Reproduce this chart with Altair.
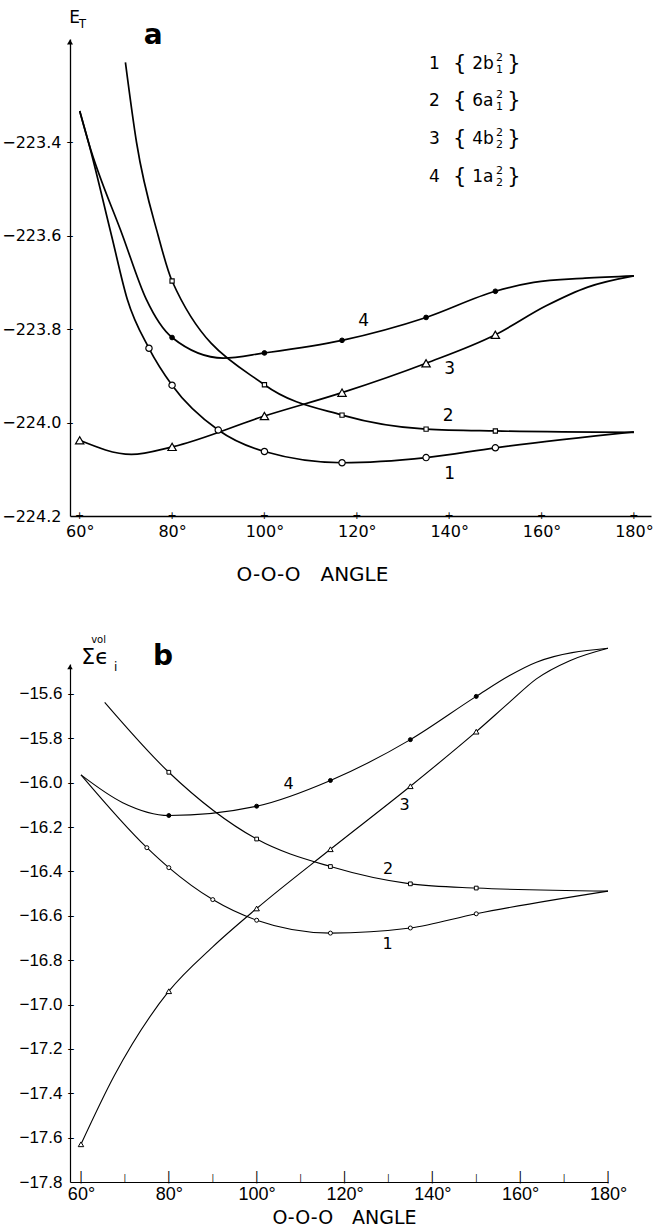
import altair as alt
import pandas as pd

FONT = "DejaVu Sans"

# ---------------- panel a : total energy E_T vs O-O-O angle ----------------
a1_angle = [60, 61.9, 66.9, 70.3, 75, 80, 90, 100, 116.8, 135, 150, 180]
a1_value = [-223.333, -223.4, -223.6, -223.736, -223.841, -223.92, -224.016, -224.062, -224.086, -224.075, -224.054, -224.02]
a1_mark = [0, 0, 0, 0, 1, 1, 1, 1, 1, 1, 1, 0]

a2_angle = [69.9, 72.3, 77.0, 80, 100, 116.8, 135, 150, 180]
a2_value = [-223.229, -223.4, -223.6, -223.697, -223.919, -223.984, -224.014, -224.018, -224.021]
a2_mark = [0, 0, 0, 1, 1, 1, 1, 1, 0]

a3_angle = [60, 71.2, 80, 100, 116.8, 135, 150, 161, 170, 180]
a3_value = [-224.038, -224.068, -224.052, -223.986, -223.936, -223.873, -223.812, -223.75, -223.71, -223.686]
a3_mark = [1, 0, 1, 1, 1, 1, 1, 0, 0, 0]

a4_angle = [60, 61.9, 69.3, 74.4, 80, 91.1, 100, 116.8, 135, 150, 158.3, 169.4, 180]
a4_value = [-223.333, -223.4, -223.6, -223.736, -223.818, -223.862, -223.851, -223.824, -223.775, -223.719, -223.700, -223.691, -223.686]
a4_mark = [0, 0, 0, 0, 1, 0, 1, 1, 1, 1, 0, 0, 0]

a_label_text = ["4", "3", "2", "1"]
a_label_angle = [121.5, 140.1, 139.8, 140.1]
a_label_value = [-223.782, -223.886, -223.986, -224.111]

legend_num = ["1", "2", "3", "4"]
legend_base = ["2b", "6a", "4b", "1a"]
legend_sup = ["2", "2", "2", "2"]
legend_sub = ["1", "1", "2", "2"]
legend_rows = [-223.232, -223.311, -223.393, -223.475]

a_xticks = [60, 80, 100, 120, 140, 160, 180]
a_yticks = [-224.2, -224.0, -223.8, -223.6, -223.4]

# ---------------- panel b : sum of valence orbital energies ----------------
b1_angle = [60, 75, 80, 90, 100, 116.8, 135, 150, 180]
b1_value = [-15.965, -16.293, -16.383, -16.527, -16.62, -16.678, -16.655, -16.591, -16.489]
b1_mark = [0, 1, 1, 1, 1, 1, 1, 1, 0]

b2_angle = [65.4, 80, 100, 116.8, 135, 150, 180]
b2_value = [-15.638, -15.953, -16.254, -16.378, -16.456, -16.475, -16.489]
b2_mark = [0, 1, 1, 1, 1, 1, 0]

b3_angle = [60, 67.6, 80, 90, 100, 116.8, 135, 150, 157.6, 163.7, 171.3, 180]
b3_value = [-17.63, -17.32, -16.94, -16.74, -16.567, -16.3, -16.016, -15.77, -15.637, -15.532, -15.45, -15.394]
b3_mark = [1, 0, 1, 0, 1, 1, 1, 1, 0, 0, 0, 0]

b4_angle = [60, 69.5, 80, 100, 116.8, 135, 150, 157.6, 163.7, 180]
b4_value = [-15.965, -16.09, -16.148, -16.106, -15.99, -15.806, -15.611, -15.517, -15.457, -15.394]
b4_mark = [0, 0, 1, 1, 1, 1, 1, 0, 0, 0]

b_label_text = ["4", "3", "2", "1"]
b_label_angle = [107.3, 133.7, 129.9, 129.8]
b_label_value = [-16.005, -16.102, -16.388, -16.726]

b_xticks_major = [60, 80, 100, 120, 140, 160, 180]
b_xticks_minor = [70, 90, 110, 130, 150, 170]
b_yticks = [-17.8, -17.6, -17.4, -17.2, -17.0, -16.8, -16.6, -16.4, -16.2, -16.0, -15.8, -15.6]

# axis ranges (data units)
A_X = [57.9, 183.7]
A_Y = [-224.2, -223.179]
B_X = [57.5, 180]
B_Y = [-17.8, -15.465]

a_w, a_h = 581, 477
b_w, b_h = 538, 518


def frame(angles, values, marks, curve):
    return pd.DataFrame({"angle": angles, "value": values, "mark": marks, "curve": curve})


def build_panel(curves, xdom, ydom, xaxis, yaxis, lw, marker_specs):
    X = alt.X("angle:Q", scale=alt.Scale(domain=xdom, nice=False, zero=False), axis=xaxis)
    Y = alt.Y("value:Q", scale=alt.Scale(domain=ydom, nice=False, zero=False), axis=yaxis)
    df = pd.concat(curves, ignore_index=True)
    layers = [
        alt.Chart(df).mark_line(interpolate="monotone", color="black", strokeWidth=lw)
        .encode(x=X, y=Y, detail="curve:N")
    ]
    for cname, spec in marker_specs.items():
        sub = df[(df["curve"] == cname) & (df["mark"] == 1)]
        layers.append(alt.Chart(sub).mark_point(**spec).encode(x=X, y=Y))
    return X, Y, layers


def text_layer(X, Y, angles, values, texts, **kw):
    d = pd.DataFrame({"angle": angles, "value": values, "t": texts})
    return alt.Chart(d).mark_text(font=FONT, color="black", **kw).encode(x=X, y=Y, text="t:N")


def point_layer(X, Y, angles, values, **kw):
    d = pd.DataFrame({"angle": angles, "value": values})
    return alt.Chart(d).mark_point(opacity=1, **kw).encode(x=X, y=Y)


def tick_text(X, Y, angles, values, glyph, size, **kw):
    # tick marks drawn as small glyphs centred on the axis line
    d = pd.DataFrame({"angle": angles, "value": values, "t": [glyph] * len(angles)})
    return alt.Chart(d).mark_text(font=FONT, color="black", fontSize=size, baseline="middle",
                                  align="center", **kw).encode(x=X, y=Y, text="t:N")


# ---------------- build panel a ----------------
a_xaxis = alt.Axis(values=a_xticks, labelExpr="datum.value + '°'", ticks=False, grid=False,
                   domainColor="black", domainWidth=1.3, labelFont=FONT, labelFontSize=16,
                   labelColor="black", labelPadding=7, labelFlush=False,
                   title="O-O-O\u2003ANGLE", titleFont=FONT, titleFontSize=20, titleFontWeight="normal",
                   titleColor="black", titleX=242, titleY=58, titleBaseline="middle")
a_yaxis = alt.Axis(values=a_yticks, format=".1f", ticks=False, grid=False, domainColor="black",
                   domainWidth=1.3, labelFont=FONT, labelFontSize=16, labelColor="black",
                   labelPadding=9, title=None, labelFlush=False)

a_markers = {
    "1": dict(shape="circle", filled=True, fill="white", stroke="black", strokeWidth=1.2, size=40, opacity=1),
    "2": dict(shape="square", filled=True, fill="white", stroke="black", strokeWidth=1.1, size=18, opacity=1),
    "3": dict(shape="triangle-up", filled=True, fill="white", stroke="black", strokeWidth=1.2, size=70, opacity=1),
    "4": dict(shape="circle", filled=True, fill="black", stroke="black", strokeWidth=1, size=22, opacity=1),
}
aX, aY, a_layers = build_panel(
    [frame(a1_angle, a1_value, a1_mark, "1"), frame(a2_angle, a2_value, a2_mark, "2"),
     frame(a3_angle, a3_value, a3_mark, "3"), frame(a4_angle, a4_value, a4_mark, "4")],
    A_X, A_Y, a_xaxis, a_yaxis, 1.7, a_markers)

a_layers += [
    tick_text(aX, aY, a_xticks, [A_Y[0]] * len(a_xticks), "+", 11),
    tick_text(aX, aY, [A_X[0]] * (len(a_yticks) - 1), a_yticks[1:], "\u2013", 14),
    point_layer(aX, aY, [A_X[0]], [A_Y[1]], shape="triangle-up", size=36, filled=True,
                color="black", yOffset=3),
    text_layer(aX, aY, a_label_angle, a_label_value, a_label_text, fontSize=17),
    text_layer(aX, aY, [136.8] * 4, legend_rows, legend_num, fontSize=17),
    text_layer(aX, aY, [142.3] * 4, legend_rows, ["{"] * 4, fontSize=21),
    text_layer(aX, aY, [145.0] * 4, legend_rows, legend_base, fontSize=17, align="left"),
    text_layer(aX, aY, [150.9] * 4, legend_rows, legend_sup, fontSize=11, dy=-6),
    text_layer(aX, aY, [150.9] * 4, legend_rows, legend_sub, fontSize=11, dy=6),
    text_layer(aX, aY, [154.0] * 4, legend_rows, ["}"] * 4, fontSize=21),
    text_layer(aX, aY, [75.9], [-223.172], ["a"], fontSize=28, fontWeight="bold"),
    text_layer(aX, aY, [58.9], [-223.134], ["E"], fontSize=17),
    text_layer(aX, aY, [60.6], [-223.147], ["T"], fontSize=12),
]
panel_a = alt.layer(*a_layers).properties(width=a_w, height=a_h)

# ---------------- build panel b ----------------
b_xaxis = alt.Axis(values=b_xticks_major, labelExpr="datum.value + '°'", ticks=False, grid=False,
                   domainColor="black", domainWidth=1.2, labelFont="Liberation Sans", labelFontSize=18,
                   labelColor="black", labelPadding=3, labelFlush=False,
                   title="O-O-O\u2003ANGLE", titleFont=FONT, titleFontSize=19, titleFontWeight="normal",
                   titleColor="black", titleX=274, titleY=35, titleBaseline="middle")
b_yaxis = alt.Axis(values=b_yticks, format=".1f", ticks=False, grid=False, domain=True,
                   domainColor="black", domainWidth=1.2, labelFont="Liberation Sans", labelFontSize=17,
                   labelColor="black", labelPadding=8, title=None, labelFlush=False)

b_markers = {
    "1": dict(shape="circle", filled=True, fill="white", stroke="black", strokeWidth=1, size=16, opacity=1),
    "2": dict(shape="square", filled=True, fill="white", stroke="black", strokeWidth=1, size=14, opacity=1),
    "3": dict(shape="triangle-up", filled=True, fill="white", stroke="black", strokeWidth=1, size=30, opacity=1),
    "4": dict(shape="circle", filled=True, fill="black", stroke="black", strokeWidth=1, size=16, opacity=1),
}
bX, bY, b_layers = build_panel(
    [frame(b1_angle, b1_value, b1_mark, "1"), frame(b2_angle, b2_value, b2_mark, "2"),
     frame(b3_angle, b3_value, b3_mark, "3"), frame(b4_angle, b4_value, b4_mark, "4")],
    B_X, B_Y, b_xaxis, b_yaxis, 1.1, b_markers)

b_layers += [
    tick_text(bX, bY, b_xticks_major, [B_Y[0]] * len(b_xticks_major), "|", 12, dy=-5),
    tick_text(bX, bY, b_xticks_minor, [B_Y[0]] * len(b_xticks_minor), "|", 8, dy=-3),
    tick_text(bX, bY, [B_X[0]] * (len(b_yticks) - 1), b_yticks[1:], "\u2013", 14, dx=1),
    point_layer(bX, bY, [B_X[0]], [B_Y[1]], shape="triangle-up", size=30, filled=True,
                color="black", yOffset=3),
    text_layer(bX, bY, b_label_angle, b_label_value, b_label_text, fontSize=16),
    text_layer(bX, bY, [78.7], [-15.435], ["b"], fontSize=28, fontWeight="bold"),
    text_layer(bX, bY, [63.2], [-15.435], ["Σϵ"], fontSize=22, align="center"),
    text_layer(bX, bY, [67.9], [-15.478], ["i"], fontSize=12),
    text_layer(bX, bY, [64.0], [-15.355], ["vol"], fontSize=10),
]
panel_b = alt.layer(*b_layers).properties(width=b_w, height=b_h)

chart = (
    alt.vconcat(panel_a, panel_b, spacing=50)
    .properties(padding={"left": 1, "top": 8, "right": 0, "bottom": 0}, background="white")
    .configure_view(stroke=None)
)

chart.save("out.html", embed_options={"renderer": "svg", "actions": False})
